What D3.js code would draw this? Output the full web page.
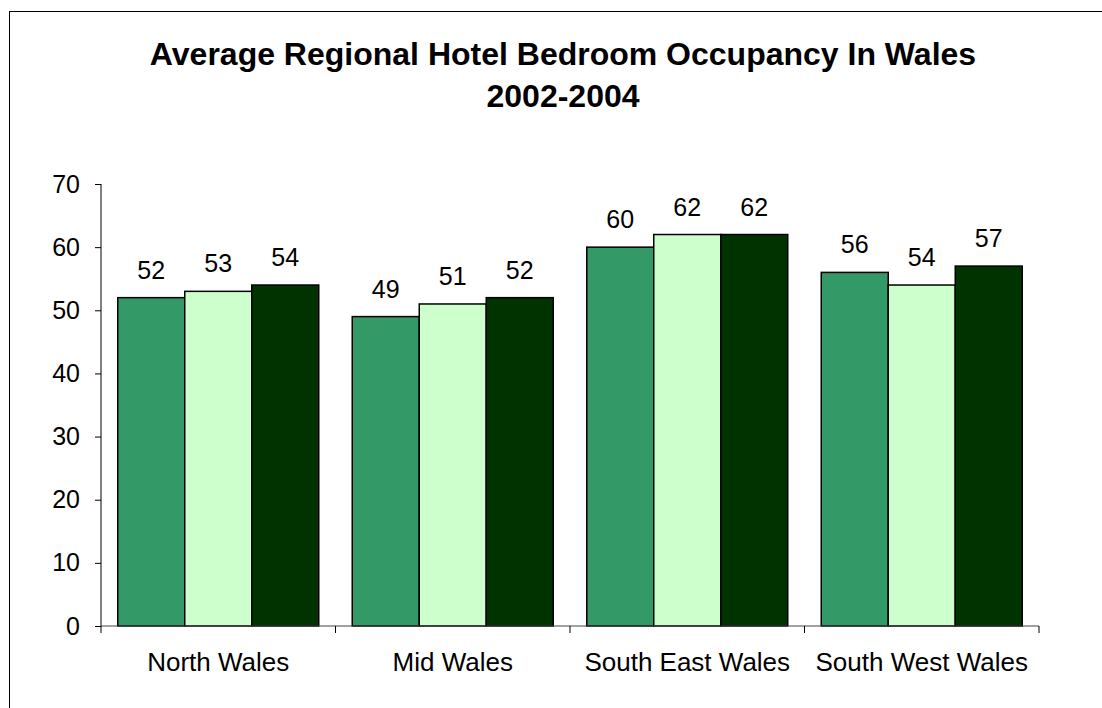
<!DOCTYPE html>
<html>
<head>
<meta charset="utf-8">
<script src="https://cdn.jsdelivr.net/npm/d3@7"></script>
<style>
  body { margin: 0; background: #fff; }
  svg { display: block; font-family: "Liberation Sans", Arial, sans-serif; }
</style>
</head>
<body>
<svg id="chart" width="1102" height="708"></svg>
<script>
// data
const regions = ["North Wales", "Mid Wales", "South East Wales", "South West Wales"];
const years = ["2002", "2003", "2004"];
const occ2002 = [52, 49, 60, 56];
const occ2003 = [53, 51, 62, 54];
const occ2004 = [54, 52, 62, 57];
const yTicks = [0, 10, 20, 30, 40, 50, 60, 70];
const titleLines = ["Average Regional Hotel Bedroom Occupancy In Wales", "2002-2004"];

const series = [occ2002, occ2003, occ2004];
const colors = ["#339966", "#ccffcc", "#003300"];

const svg = d3.select("#chart");

// outer frame (right/bottom edges fall outside the picture)
svg.append("rect")
  .attr("x", 9.5).attr("y", 11.5)
  .attr("width", 1200).attr("height", 800)
  .attr("fill", "none").attr("stroke", "#000").attr("stroke-width", 1);

const plot = { left: 101, right: 1039, top: 184, bottom: 626 };

const x0 = d3.scaleBand()
  .domain(regions)
  .range([plot.left, plot.right])
  .paddingInner(0)
  .paddingOuter(0);

const x1 = d3.scaleBand()
  .domain(years)
  .range([0, x0.bandwidth()])
  .paddingInner(0)
  .paddingOuter(0.25);

const y = d3.scaleLinear()
  .domain([0, 70])
  .range([plot.bottom, plot.top]);

// title
svg.append("text")
  .attr("x", 563).attr("y", 65)
  .attr("text-anchor", "middle")
  .attr("font-size", 32).attr("font-weight", "bold")
  .selectAll("tspan")
  .data(titleLines)
  .enter()
  .append("tspan")
  .attr("x", 563)
  .attr("dy", (d, i) => i === 0 ? 0 : 42)
  .text(d => d);

// bars
const groups = svg.append("g")
  .selectAll("g")
  .data(regions)
  .enter()
  .append("g")
  .attr("transform", d => `translate(${x0(d)},0)`);

groups.selectAll("rect")
  .data((d, i) => years.map((yr, j) => ({ yr, v: series[j][i], c: colors[j] })))
  .enter()
  .append("rect")
  .attr("x", d => x1(d.yr))
  .attr("y", d => y(d.v))
  .attr("width", x1.bandwidth())
  .attr("height", d => y(0) - y(d.v))
  .attr("fill", d => d.c)
  .attr("stroke", "#000")
  .attr("stroke-width", 1.5);

groups.selectAll("text")
  .data((d, i) => years.map((yr, j) => ({ yr, v: series[j][i] })))
  .enter()
  .append("text")
  .attr("x", d => x1(d.yr) + x1.bandwidth() / 2)
  .attr("y", d => y(d.v) - 19)
  .attr("text-anchor", "middle")
  .attr("font-size", 25)
  .text(d => d.v);

// y axis
const yAxis = d3.axisLeft(y).tickValues(yTicks).tickSize(6).tickPadding(15);
const gy = svg.append("g")
  .attr("transform", `translate(${plot.left},0)`)
  .call(yAxis);
gy.select(".domain").attr("stroke", "#000").attr("d", `M0,${plot.top}V${plot.bottom}`);
gy.selectAll(".tick line").attr("stroke", "#000");
gy.selectAll(".tick text")
  .attr("font-size", 25)
  .attr("font-family", "Liberation Sans, Arial, sans-serif")
  .attr("fill", "#000");

// x axis
const gx = svg.append("g")
  .attr("transform", `translate(0,${plot.bottom})`);
gx.append("line")
  .attr("x1", plot.left).attr("x2", plot.right)
  .attr("stroke", "#444").attr("stroke-width", 1.2);
gx.selectAll(".xtick")
  .data(regions.concat(["end"]))
  .enter()
  .append("line")
  .attr("x1", (d, i) => i < regions.length ? x0(d) : plot.right)
  .attr("x2", (d, i) => i < regions.length ? x0(d) : plot.right)
  .attr("y1", 0).attr("y2", 7)
  .attr("stroke", "#000");
gx.selectAll(".xlabel")
  .data(regions)
  .enter()
  .append("text")
  .attr("x", d => x0(d) + x0.bandwidth() / 2)
  .attr("y", 45)
  .attr("text-anchor", "middle")
  .attr("font-size", 26)
  .text(d => d);
</script>
</body>
</html>
